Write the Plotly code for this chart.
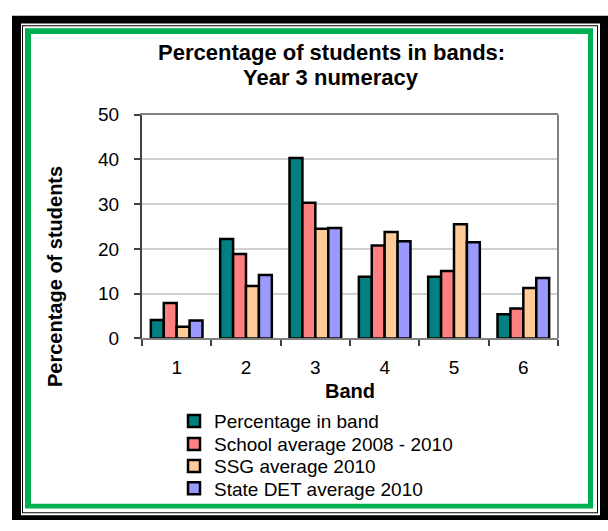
import plotly.graph_objects as go

W, H = 608, 531

bands = ["1", "2", "3", "4", "5", "6"]
series_names = [
    "Percentage in band",
    "School average 2008 - 2010",
    "SSG average 2010",
    "State DET average 2010",
]
pct_in_band = [4.1, 22.2, 40.3, 13.8, 13.8, 5.4]
school_avg = [7.9, 18.9, 30.3, 20.8, 15.1, 6.7]
ssg_avg = [2.6, 11.7, 24.5, 23.8, 25.5, 11.3]
state_avg = [4.0, 14.2, 24.7, 21.7, 21.5, 13.5]
colors = ["#008080", "#FF8080", "#FFCC99", "#9999FF"]

FONT = "Arial, Liberation Sans, sans-serif"

def px(x):
    return x / W

def py(y):
    return 1 - y / H

legend_ids = ["legend", "legend2", "legend3", "legend4"]
legend_rows = [428, 452, 475, 498]

fig = go.Figure()
for name, vals, col, lid in zip(series_names, [pct_in_band, school_avg, ssg_avg, state_avg], colors, legend_ids):
    fig.add_trace(go.Bar(
        x=bands, y=vals, name=name, legend=lid,
        marker=dict(color=col, line=dict(color="black", width=2.5)),
    ))

shapes = []
def rect(x0, y0, x1, y1, fill):
    shapes.append(dict(type="rect", xref="paper", yref="paper",
                       x0=px(x0), x1=px(x1), y0=py(y1), y1=py(y0),
                       fillcolor=fill, line=dict(width=0), layer="below"))

# frame: thick black, white, thin black, white, green, white
rect(12, 6, 608, 531, "black")
rect(21, 14, 600, 526, "white")
rect(22, 16, 598, 524, "black")
rect(23, 17, 597, 523, "white")
rect(25, 19, 593, 519, "#00B050")
rect(31, 25, 588, 514, "white")

# right border of plot area (gray)
shapes.append(dict(type="line", xref="x domain", yref="y domain",
                   x0=1, x1=1, y0=0, y1=1,
                   line=dict(color="#808080", width=2)))

legend_layout = {}
for lid, ry in zip(legend_ids, legend_rows):
    legend_layout[lid] = dict(
        x=px(174), y=py(ry), xanchor="left", yanchor="middle",
        font=dict(size=19, family=FONT, color="black"),
        bgcolor="rgba(0,0,0,0)", itemwidth=30,
    )

fig.update_layout(
    width=W, height=H,
    margin=dict(l=0, r=0, t=0, b=0),
    paper_bgcolor="white",
    plot_bgcolor="rgba(0,0,0,0)",
    barmode="group",
    bargap=0.255,
    bargroupgap=0,
    font=dict(family=FONT, color="black"),
    shapes=shapes,
    showlegend=True,
    xaxis=dict(
        domain=[px(142), px(558)],
        type="category",
        tickson="boundaries",
        ticks="outside", ticklen=6, tickcolor="#404040", tickwidth=1.5,
        showline=True, linecolor="#808080", linewidth=2, mirror=True,
        showgrid=False,
        tickfont=dict(size=19, family=FONT, color="black"),
        ticklabelstandoff=11,
        zeroline=False,
    ),
    yaxis=dict(
        domain=[py(342), py(109)],
        range=[0, 50],
        tickvals=[0, 10, 20, 30, 40, 50],
        ticks="outside", ticklen=6, tickcolor="#404040", tickwidth=1.5,
        showline=True, linecolor="#404040", linewidth=2,
        showgrid=True, gridcolor="#d0d0d0", gridwidth=1.5,
        zeroline=False,
        ticklabelstandoff=11,
        tickfont=dict(size=19, family=FONT, color="black"),
    ),
    annotations=[
        dict(text="<b>Percentage of students in bands:</b>",
             xref="paper", yref="paper", x=px(331), y=py(44),
             xanchor="center", yanchor="middle", showarrow=False,
             font=dict(size=22, family=FONT, color="black")),
        dict(text="<b>Year 3 numeracy</b>",
             xref="paper", yref="paper", x=px(331), y=py(70),
             xanchor="center", yanchor="middle", showarrow=False,
             font=dict(size=22, family=FONT, color="black")),
        dict(text="<b>Percentage of students</b>",
             xref="paper", yref="paper", x=px(55), y=py(278),
             xanchor="center", yanchor="middle", showarrow=False, textangle=-90,
             font=dict(size=20, family=FONT, color="black")),
        dict(text="<b>Band</b>",
             xref="paper", yref="paper", x=px(350), y=py(397),
             xanchor="center", yanchor="middle", showarrow=False,
             font=dict(size=20, family=FONT, color="black")),
    ],
)
fig.update_layout(**legend_layout)

fig.write_html("out.html")
